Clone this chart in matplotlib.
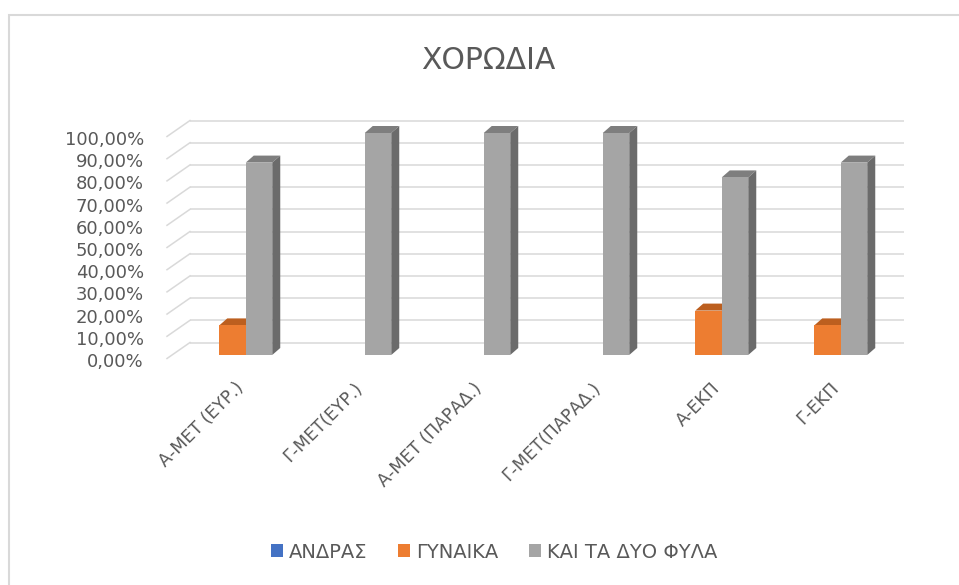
import matplotlib
matplotlib.use("Agg")
import matplotlib.pyplot as plt
import matplotlib.transforms as mtransforms
from matplotlib.patches import Polygon, Rectangle, Patch

# ---------------- data ----------------
categories = ["Α-ΜΕΤ (ΕΥΡ.)", "Γ-ΜΕΤ(ΕΥΡ.)", "Α-ΜΕΤ (ΠΑΡΑΔ.)",
              "Γ-ΜΕΤ(ΠΑΡΑΔ.)", "Α-ΕΚΠ", "Γ-ΕΚΠ"]
series_names = ["ΑΝΔΡΑΣ", "ΓΥΝΑΙΚΑ", "ΚΑΙ ΤΑ ΔΥΟ ΦΥΛΑ"]
andras = [0.0, 0.0, 0.0, 0.0, 0.0, 0.0]
gynaika = [0.1333, 0.0, 0.0, 0.0, 0.20, 0.1333]
kai_ta_dyo = [0.8667, 1.0, 1.0, 1.0, 0.80, 0.8667]
y_ticks = [0.0, 0.1, 0.2, 0.3, 0.4, 0.5, 0.6, 0.7, 0.8, 0.9, 1.0]
y_tick_labels = ["0,00%", "10,00%", "20,00%", "30,00%", "40,00%", "50,00%",
                 "60,00%", "70,00%", "80,00%", "90,00%", "100,00%"]
title = "ΧΟΡΩΔΙΑ"

# ---------------- style ----------------
front_colors = ["#4472C4", "#ED7D31", "#A5A5A5"]
top_colors = ["#34599A", "#BC5F1F", "#7E7E7E"]
side_colors = ["#2E4E88", "#A8541B", "#6B6B6B"]
text_color = "#595959"
grid_color = "#D9D9D9"

W, H = 959, 585
fig = plt.figure(figsize=(W / 100, H / 100), dpi=100)
fig.patch.set_facecolor("white")

ax = fig.add_axes([173 / W, 1 - 355 / H, 714 / W, 222 / H])
ax.set_xlim(-0.5, len(categories) - 0.5)
ax.set_ylim(0, 1)
ax.axis("off")


def px_to_data(dx, dy):
    inv = ax.transData.inverted()
    p0 = inv.transform((0, 0))
    p1 = inv.transform((dx, dy))
    return p1[0] - p0[0], p1[1] - p0[1]


back_dx, back_dy = px_to_data(17, 12.5)
front_dx, front_dy = px_to_data(-6, -3.5)
depth_dx, depth_dy = px_to_data(8, 7)
bar_w, _ = px_to_data(26.5, 0)

x_left, x_right = ax.get_xlim()

# gridlines on back wall + slanted lines on left side wall
for v in y_ticks:
    ax.plot([x_left + back_dx, x_right + back_dx], [v + back_dy, v + back_dy],
            color=grid_color, lw=1.1, zorder=1, solid_capstyle="butt",
            clip_on=False)
    ax.plot([x_left + front_dx, x_left + back_dx], [v + front_dy, v + back_dy],
            color=grid_color, lw=1.1, zorder=1, clip_on=False)

# bars
all_series = [andras, gynaika, kai_ta_dyo]
n_series = len(all_series)
for j, vals in enumerate(all_series):
    xs = [i - n_series * bar_w / 2 + j * bar_w for i in range(len(categories))]
    ax.bar(xs, vals, width=bar_w, align="edge", color=front_colors[j],
           linewidth=0, zorder=3 + j + 0.2, clip_on=False)
    for x0, v in zip(xs, vals):
        if v <= 0:
            continue
        x1 = x0 + bar_w
        top = Polygon([(x0, v), (x1, v), (x1 + depth_dx, v + depth_dy),
                       (x0 + depth_dx, v + depth_dy)], closed=True,
                      facecolor=top_colors[j], edgecolor="none",
                      zorder=3 + j + 0.1, clip_on=False)
        side = Polygon([(x1, 0), (x1 + depth_dx, depth_dy),
                        (x1 + depth_dx, v + depth_dy), (x1, v)], closed=True,
                       facecolor=side_colors[j], edgecolor="none",
                       zorder=3 + j + 0.1, clip_on=False)
        ax.add_patch(top)
        ax.add_patch(side)

# y tick labels
ylab_trans = mtransforms.blended_transform_factory(fig.transFigure, ax.transData) + \
    mtransforms.ScaledTranslation(0, -12 / 100, fig.dpi_scale_trans)
for v, lab in zip(y_ticks, y_tick_labels):
    fig.text(144 / W, v, lab, transform=ylab_trans, ha="right", va="baseline",
             fontsize=13, color=text_color)

# category labels
cat_trans = ax.transData + mtransforms.ScaledTranslation(2 / 100, -24 / 100,
                                                          fig.dpi_scale_trans)
for i, lab in enumerate(categories):
    ax.text(i, 0, lab, transform=cat_trans, rotation=45, ha="right", va="top",
            rotation_mode="anchor", fontsize=12.5, color=text_color)

# title
fig.text(488 / W, 1 - 69 / H, title, ha="center", va="baseline",
         fontsize=21.5, color=text_color)

# legend
handles = [Patch(facecolor=c, edgecolor="none") for c in front_colors]
fig.legend(handles, series_names, loc="center", bbox_to_anchor=(494 / W, 1 - 552 / H),
           ncol=3, frameon=False, fontsize=14, handlelength=0.6, handleheight=0.6,
           handletextpad=0.3, columnspacing=1.6, labelcolor=text_color)

# chart-area border
fig.add_artist(Rectangle((8.5 / W, -0.2), 2, 1.2 - 14.5 / H, transform=fig.transFigure,
                         fill=False, edgecolor="#D9D9D9", lw=1.5))

fig.savefig("out.png", dpi=100, facecolor="white")
